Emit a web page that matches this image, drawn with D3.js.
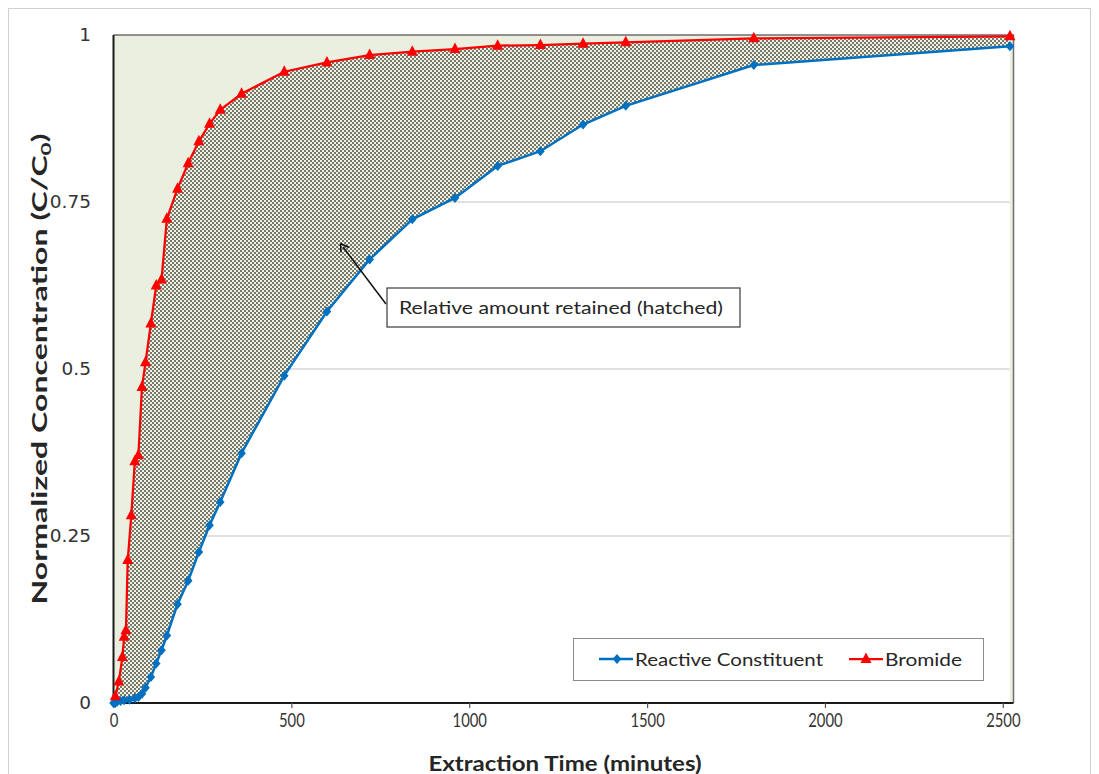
<!DOCTYPE html>
<html>
<head>
<meta charset="utf-8">
<script src="https://cdn.jsdelivr.net/npm/d3@7"></script>
<style>
  html, body { margin: 0; padding: 0; background: #ffffff; }
  svg { display: block; }
</style>
</head>
<body>
<svg id="chart" width="1099" height="774"></svg>
<script>
// ---- data ----
const bromideTime = [5, 15, 25, 30, 35, 40, 50, 60, 70, 80, 90, 105, 120, 135, 150, 180, 210, 240, 270, 300, 360, 480, 600, 720, 840, 960, 1080, 1200, 1320, 1440, 1800, 2520];
const bromideConc = [0.01, 0.032, 0.069, 0.099, 0.109, 0.214, 0.281, 0.362, 0.371, 0.473, 0.51, 0.568, 0.625, 0.634, 0.725, 0.77, 0.808, 0.841, 0.867, 0.888, 0.912, 0.945, 0.959, 0.970, 0.975, 0.979, 0.984, 0.985, 0.987, 0.989, 0.995, 0.998];
const reactiveTime = [0, 5, 10, 20, 30, 45, 60, 70, 80, 90, 105, 120, 135, 150, 180, 210, 240, 270, 300, 360, 480, 600, 720, 840, 960, 1080, 1200, 1320, 1440, 1800, 2520];
const reactiveConc = [0.0, 0.0, 0.002, 0.003, 0.004, 0.005, 0.007, 0.009, 0.014, 0.023, 0.039, 0.059, 0.079, 0.101, 0.148, 0.183, 0.226, 0.266, 0.301, 0.374, 0.49, 0.586, 0.664, 0.724, 0.756, 0.804, 0.826, 0.866, 0.894, 0.955, 0.983];
const xTicks = [0, 500, 1000, 1500, 2000, 2500];
const yTicks = [0, 0.25, 0.5, 0.75, 1];
const yTickLabels = ["0", "0.25", "0.5", "0.75", "1"];
const seriesNames = ["Reactive Constituent", "Bromide"];
const annotationText = "Relative amount retained (hatched)";

const bromide = bromideTime.map((t, i) => ({t, v: bromideConc[i]}));
const reactive = reactiveTime.map((t, i) => ({t, v: reactiveConc[i]}));

const svg = d3.select("#chart");
const L = 113.5, R = 1013.5, T = 35, B = 703;
const x = d3.scaleLinear().domain([0, 2530]).range([L, R]);
const y = d3.scaleLinear().domain([0, 1]).range([B, T]);

// outer chart border
svg.append("rect").attr("x", 8.5).attr("y", 8.5).attr("width", 1082).attr("height", 800)
  .attr("fill", "none").attr("stroke", "#d0d0d0").attr("stroke-width", 1);

const defs = svg.append("defs");
const pat = defs.append("pattern").attr("id", "hatch").attr("patternUnits", "userSpaceOnUse")
  .attr("width", 4).attr("height", 4);
pat.append("rect").attr("width", 4).attr("height", 4).attr("fill", "#75786b");
pat.append("rect").attr("x", 0).attr("y", 0).attr("width", 2).attr("height", 2).attr("fill", "#f0f2e4");
pat.append("rect").attr("x", 2).attr("y", 2).attr("width", 2).attr("height", 2).attr("fill", "#f0f2e4");

const areaBelow = d3.area().x(d => x(d.t)).y0(y(0)).y1(d => y(d.v));
defs.append("clipPath").attr("id", "whiteClip").append("path").attr("d", areaBelow(reactive));

// plot background (above bromide curve)
svg.append("rect").attr("x", L).attr("y", T).attr("width", R - L).attr("height", B - T).attr("fill", "#ebefdf");
// hatched area under bromide
svg.append("path").attr("d", areaBelow(bromide)).attr("fill", "url(#hatch)");
// white area under reactive
svg.append("path").attr("d", areaBelow(reactive)).attr("fill", "#ffffff");

// gridlines (visible in white region)
svg.append("g").attr("clip-path", "url(#whiteClip)")
  .selectAll("line").data(yTicks.filter(v => v > 0 && v < 1)).join("line")
  .attr("x1", L).attr("x2", R).attr("y1", d => y(d)).attr("y2", d => y(d))
  .attr("stroke", "#d9d9d9").attr("stroke-width", 1.5);

// plot border top/right
svg.append("path").attr("d", `M${L},${T}H${R}V${B}`).attr("fill", "none").attr("stroke", "#6e6e6e").attr("stroke-width", 1.5);

// axes
const xAxis = d3.axisBottom(x).tickValues(xTicks).tickSize(5).tickFormat(d3.format("d"));
const gx = svg.append("g").attr("transform", `translate(0,${B})`).call(xAxis);
gx.select(".domain").attr("d", `M${L},0H${R}`).attr("stroke", "#1a1a1a").attr("stroke-width", 2);
gx.selectAll(".tick line").attr("stroke", "#555").attr("stroke-width", 1.2);
gx.selectAll(".tick text").attr("font-family", "Lato, 'Open Sans', sans-serif").attr("font-size", 20)
  .attr("fill", "#333").attr("dy", "0").attr("y", 24)
  .attr("textLength", function() { return this.textContent.length * 8.6; })
  .attr("lengthAdjust", "spacingAndGlyphs");

const yAxis = d3.axisLeft(y).tickValues(yTicks).tickSize(0).tickPadding(22.5).tickFormat((d, i) => yTickLabels[i]);
const gy = svg.append("g").attr("transform", `translate(${L},0)`).call(yAxis);
gy.select(".domain").attr("d", `M0,${T}V${B}`).attr("stroke", "#1a1a1a").attr("stroke-width", 2);
gy.selectAll(".tick text").attr("font-family", "'DejaVu Sans', sans-serif").attr("font-size", 18.5).attr("fill", "#333");

// lines
const line = d3.line().x(d => x(d.t)).y(d => y(d.v));
const blue = "#0070c0", red = "#ff0000";
const diamond = "M0,-5L4.3,0L0,5L-4.3,0Z";
const tri = "M0,-6.5L5.5,4L-5.5,4Z";
svg.append("path").attr("d", line(reactive)).attr("fill", "none").attr("stroke", blue).attr("stroke-width", 2.5);
svg.append("g").selectAll("path").data(reactive).join("path")
  .attr("transform", d => `translate(${x(d.t)},${y(d.v)})`)
  .attr("d", diamond).attr("fill", blue);
svg.append("path").attr("d", line(bromide)).attr("fill", "none").attr("stroke", red).attr("stroke-width", 2.25);
svg.append("g").selectAll("path").data(bromide).join("path")
  .attr("transform", d => `translate(${x(d.t)},${y(d.v)})`)
  .attr("d", tri).attr("fill", red);

// axis titles
svg.append("text").attr("x", 565).attr("y", 771).attr("text-anchor", "middle")
  .attr("font-family", "Lato, 'Open Sans', sans-serif").attr("font-weight", "bold").attr("font-size", 21)
  .attr("fill", "#262626").attr("textLength", 273).attr("lengthAdjust", "spacingAndGlyphs")
  .text("Extraction Time (minutes)");
const yt = svg.append("text").attr("transform", "translate(47,369) rotate(-90)").attr("text-anchor", "middle")
  .attr("font-family", "Lato, 'Open Sans', sans-serif").attr("font-weight", "bold").attr("font-size", 20)
  .attr("fill", "#262626").attr("textLength", 471).attr("lengthAdjust", "spacingAndGlyphs");
yt.append("tspan").text("Normalized Concentration (C/C");
yt.append("tspan").attr("font-size", 14).attr("dy", 4).text("0");
yt.append("tspan").attr("dy", -4).text(")");

// annotation
svg.append("line").attr("x1", 386).attr("y1", 304).attr("x2", 343).attr("y2", 247)
  .attr("stroke", "#111").attr("stroke-width", 1.5);
svg.append("path").attr("d", "M340.5,243.5L349,247.5M340.5,243.5L341,252.5").attr("stroke", "#111").attr("stroke-width", 1.5).attr("fill", "none");
svg.append("rect").attr("x", 387).attr("y", 288).attr("width", 353).attr("height", 39)
  .attr("fill", "#fff").attr("stroke", "#3a3a3a").attr("stroke-width", 1.2);
svg.append("text").attr("x", 399).attr("y", 314).attr("font-family", "Lato, 'Open Sans', sans-serif")
  .attr("font-size", 18).attr("fill", "#262626").attr("textLength", 324).attr("lengthAdjust", "spacingAndGlyphs")
  .text(annotationText);

// legend
const lg = svg.append("g");
lg.append("rect").attr("x", 573.5).attr("y", 638.5).attr("width", 410).attr("height", 42)
  .attr("fill", "#fff").attr("stroke", "#8c8c8c").attr("stroke-width", 1);
lg.append("line").attr("x1", 599).attr("x2", 633).attr("y1", 659).attr("y2", 659).attr("stroke", blue).attr("stroke-width", 2.5);
lg.append("path").attr("transform", "translate(617,659)").attr("d", diamond).attr("fill", blue);
lg.append("text").attr("x", 635).attr("y", 665.5).attr("font-family", "Lato, 'Open Sans', sans-serif")
  .attr("font-size", 18).attr("fill", "#262626").attr("textLength", 188).attr("lengthAdjust", "spacingAndGlyphs")
  .text(seriesNames[0]);
lg.append("line").attr("x1", 849).attr("x2", 883).attr("y1", 659).attr("y2", 659).attr("stroke", red).attr("stroke-width", 2.25);
lg.append("path").attr("transform", "translate(866,659)").attr("d", tri).attr("fill", red);
lg.append("text").attr("x", 885).attr("y", 665.5).attr("font-family", "Lato, 'Open Sans', sans-serif")
  .attr("font-size", 18).attr("fill", "#262626").attr("textLength", 77).attr("lengthAdjust", "spacingAndGlyphs")
  .text(seriesNames[1]);
</script>
</body>
</html>
